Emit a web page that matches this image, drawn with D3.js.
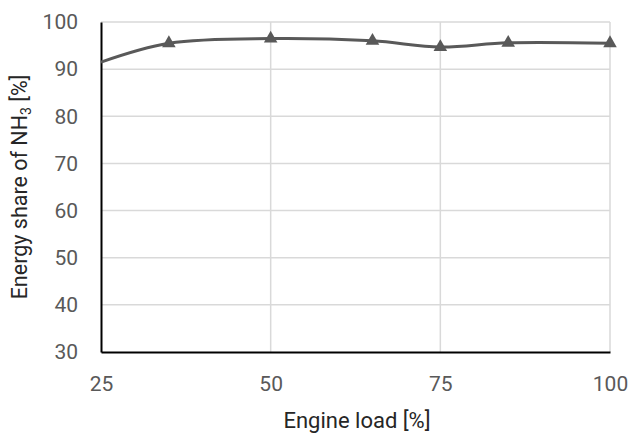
<!DOCTYPE html>
<html>
<head>
<meta charset="utf-8">
<script src="https://cdn.jsdelivr.net/npm/d3@7"></script>
<style>
  html, body { margin: 0; padding: 0; background: #fff; }
  svg { display: block; }
</style>
</head>
<body>
<script>
const loads = [25, 35, 50, 65, 75, 85, 100];
const energyShare = [91.5, 95.5, 96.5, 96.0, 94.7, 95.6, 95.5];
const markerLoads = [35, 50, 65, 75, 85, 100];
const xTicks = [25, 50, 75, 100];
const yTicks = [30, 40, 50, 60, 70, 80, 90, 100];

const W = 636, H = 441;
const m = { left: 101, right: 26, top: 22, bottom: 89 };
const svg = d3.select("body").append("svg").attr("width", W).attr("height", H);

const x = d3.scaleLinear().domain([25, 100]).range([m.left, W - m.right]);
const y = d3.scaleLinear().domain([30, 100]).range([H - m.bottom, m.top]);

const font = "Roboto, 'Open Sans', sans-serif";

// gridlines
svg.append("g").selectAll("line.h").data(yTicks.filter(d => d > 30)).join("line")
  .attr("x1", m.left).attr("x2", W - m.right)
  .attr("y1", d => y(d)).attr("y2", d => y(d))
  .attr("stroke", "#d9d9d9").attr("stroke-width", 1.5);
svg.append("g").selectAll("line.v").data(xTicks.filter(d => d > 25)).join("line")
  .attr("x1", d => x(d)).attr("x2", d => x(d))
  .attr("y1", m.top).attr("y2", H - m.bottom)
  .attr("stroke", "#d9d9d9").attr("stroke-width", 1.5);

// axes
const xAxis = svg.append("g").attr("transform", `translate(0,${H - m.bottom})`)
  .call(d3.axisBottom(x).tickValues(xTicks).tickSize(0).tickPadding(24));
const yAxis = svg.append("g").attr("transform", `translate(${m.left},0)`)
  .call(d3.axisLeft(y).tickValues(yTicks).tickSize(0).tickPadding(23));
[xAxis, yAxis].forEach(g => {
  g.select(".domain").attr("stroke", "#000").attr("stroke-width", 2);
  g.selectAll("text").attr("font-family", font).attr("font-size", 21).attr("fill", "#595959");
});

// line
const pts = loads.map((l, i) => [l, energyShare[i]]);
svg.append("path")
  .datum(pts)
  .attr("fill", "none").attr("stroke", "#595959").attr("stroke-width", 3)
  .attr("d", d3.line().x(d => x(d[0])).y(d => y(d[1])).curve(d3.curveCatmullRom.alpha(0.5)));

// markers
const tri = d3.symbol().type(d3.symbolTriangle).size(80);
svg.append("g").selectAll("path").data(pts.filter(p => markerLoads.includes(p[0]))).join("path")
  .attr("d", tri)
  .attr("transform", d => `translate(${x(d[0])},${y(d[1])})`)
  .attr("fill", "#595959");

// titles
svg.append("text")
  .attr("x", 357).attr("y", 428)
  .attr("text-anchor", "middle")
  .attr("font-family", font).attr("font-size", 22).attr("fill", "#262626")
  .text("Engine load [%]");

const yt = svg.append("text")
  .attr("transform", `translate(27,187) rotate(-90)`)
  .attr("text-anchor", "middle")
  .attr("font-family", font).attr("font-size", 21.5).attr("fill", "#262626");
yt.append("tspan").text("Energy share of NH");
yt.append("tspan").attr("font-size", 14).attr("dy", 4).text("3");
yt.append("tspan").attr("dy", -4).text(" [%]");
</script>
</body>
</html>
